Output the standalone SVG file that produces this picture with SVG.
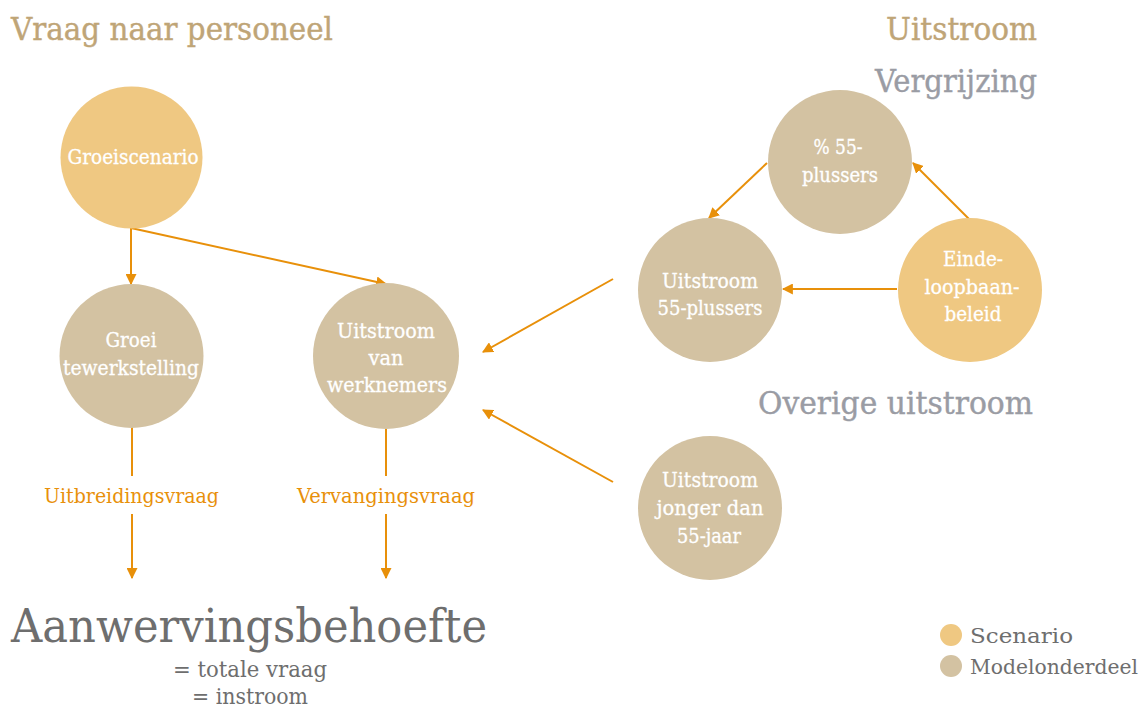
<svg xmlns="http://www.w3.org/2000/svg" width="1148" height="707" viewBox="0 0 1148 707">
<defs>
<marker id="ah" viewBox="0 0 10 10" refX="9" refY="5" markerWidth="11" markerHeight="11" markerUnits="userSpaceOnUse" orient="auto">
<path d="M0,0 L10,5 L0,10 z" fill="#E8900A"/>
</marker>
<style>
.t{font-family:"DejaVu Serif","Liberation Serif",serif}
.h{font-size:31px;fill:#BFA577;stroke:#BFA577;stroke-width:0.4}
.g{font-size:31px;fill:#9A9CA4;stroke:#9A9CA4;stroke-width:0.4}
.n{font-size:20px;fill:#FFFFFF;stroke:#FFFFFF;stroke-width:0.3;text-anchor:middle}
.lab{font-size:20px;fill:#E8900A;text-anchor:middle}
.dk{fill:#6E6E6E}
.sc{fill:#EFC882}
.md{fill:#D3C2A2}
.c{stroke:#E8900A;stroke-width:2;fill:none}
</style>
</defs>
<rect width="1148" height="707" fill="#FFFFFF"/>
<text class="t h" x="11" y="40" textLength="322" lengthAdjust="spacingAndGlyphs">Vraag naar personeel</text>
<text class="t h" x="886" y="40" textLength="151" lengthAdjust="spacingAndGlyphs">Uitstroom</text>
<text class="t g" x="875" y="92" textLength="162" lengthAdjust="spacingAndGlyphs">Vergrijzing</text>
<text class="t g" x="758" y="414" textLength="275" lengthAdjust="spacingAndGlyphs">Overige uitstroom</text>

<g id="connectors">
<line class="c" x1="131" y1="228" x2="131" y2="284" marker-end="url(#ah)"/>
<line class="c" x1="131" y1="228" x2="386" y2="284" marker-end="url(#ah)"/>
<line class="c" x1="613" y1="279" x2="483" y2="352" marker-end="url(#ah)"/>
<line class="c" x1="613" y1="482" x2="483" y2="410" marker-end="url(#ah)"/>
<line class="c" x1="767" y1="163" x2="709" y2="218" marker-end="url(#ah)"/>
<line class="c" x1="969" y1="219" x2="913" y2="163" marker-end="url(#ah)"/>
<line class="c" x1="897" y1="289" x2="783" y2="289" marker-end="url(#ah)"/>
<line class="c" x1="132" y1="426" x2="132" y2="476"/>
<line class="c" x1="132" y1="514" x2="132" y2="578" marker-end="url(#ah)"/>
<line class="c" x1="386" y1="426" x2="386" y2="476"/>
<line class="c" x1="386" y1="514" x2="386" y2="578" marker-end="url(#ah)"/>
<text class="t lab" x="131.5" y="503" textLength="175" lengthAdjust="spacingAndGlyphs">Uitbreidingsvraag</text>
<text class="t lab" x="386" y="503" textLength="178" lengthAdjust="spacingAndGlyphs">Vervangingsvraag</text>
</g>

<g id="groeiscenario">
<circle class="sc" cx="131.5" cy="157.5" r="71"/>
<text class="t n" x="133" y="164" textLength="131" lengthAdjust="spacingAndGlyphs">Groeiscenario</text>
</g>
<g id="groei-tewerkstelling">
<circle class="md" cx="131.5" cy="356" r="72"/>
<text class="t n" x="131" y="347" textLength="51" lengthAdjust="spacingAndGlyphs">Groei</text>
<text class="t n" x="131" y="375" textLength="136" lengthAdjust="spacingAndGlyphs">tewerkstelling</text>
</g>
<g id="uitstroom-werknemers">
<circle class="md" cx="386" cy="356" r="73"/>
<text class="t n" x="386" y="338" textLength="98" lengthAdjust="spacingAndGlyphs">Uitstroom</text>
<text class="t n" x="386" y="365" textLength="35" lengthAdjust="spacingAndGlyphs">van</text>
<text class="t n" x="387" y="392" textLength="120" lengthAdjust="spacingAndGlyphs">werknemers</text>
</g>
<g id="pct-55-plussers">
<circle class="md" cx="840" cy="162" r="72"/>
<text class="t n" x="838" y="154" textLength="49" lengthAdjust="spacingAndGlyphs">% 55-</text>
<text class="t n" x="840" y="182" textLength="76" lengthAdjust="spacingAndGlyphs">plussers</text>
</g>
<g id="uitstroom-55-plussers">
<circle class="md" cx="710" cy="290" r="72"/>
<text class="t n" x="710" y="288" textLength="96" lengthAdjust="spacingAndGlyphs">Uitstroom</text>
<text class="t n" x="710" y="315" textLength="105" lengthAdjust="spacingAndGlyphs">55-plussers</text>
</g>
<g id="eindeloopbaanbeleid">
<circle class="sc" cx="970" cy="290" r="72"/>
<text class="t n" x="973" y="266" textLength="60" lengthAdjust="spacingAndGlyphs">Einde-</text>
<text class="t n" x="972" y="294" textLength="95" lengthAdjust="spacingAndGlyphs">loopbaan-</text>
<text class="t n" x="973" y="321" textLength="57" lengthAdjust="spacingAndGlyphs">beleid</text>
</g>
<g id="uitstroom-jonger">
<circle class="md" cx="710" cy="508" r="72"/>
<text class="t n" x="710" y="487" textLength="96" lengthAdjust="spacingAndGlyphs">Uitstroom</text>
<text class="t n" x="710" y="515" textLength="107" lengthAdjust="spacingAndGlyphs">jonger dan</text>
<text class="t n" x="709" y="543" textLength="64" lengthAdjust="spacingAndGlyphs">55-jaar</text>
</g>

<g id="aanwervingsbehoefte">
<text class="t dk" x="11" y="642" font-size="46" textLength="476" lengthAdjust="spacingAndGlyphs">Aanwervingsbehoefte</text>
<text class="t dk" x="173" y="677" font-size="22" textLength="154" lengthAdjust="spacingAndGlyphs">= totale vraag</text>
<text class="t dk" x="192" y="704" font-size="22" textLength="116" lengthAdjust="spacingAndGlyphs">= instroom</text>
</g>

<g id="legend">
<circle class="sc" cx="951" cy="635" r="11"/>
<text class="t dk" x="970" y="643" font-size="20.5" textLength="103" lengthAdjust="spacingAndGlyphs">Scenario</text>
<circle class="md" cx="951" cy="666" r="11"/>
<text class="t dk" x="970" y="674" font-size="20.5" textLength="168" lengthAdjust="spacingAndGlyphs">Modelonderdeel</text>
</g>
</svg>
